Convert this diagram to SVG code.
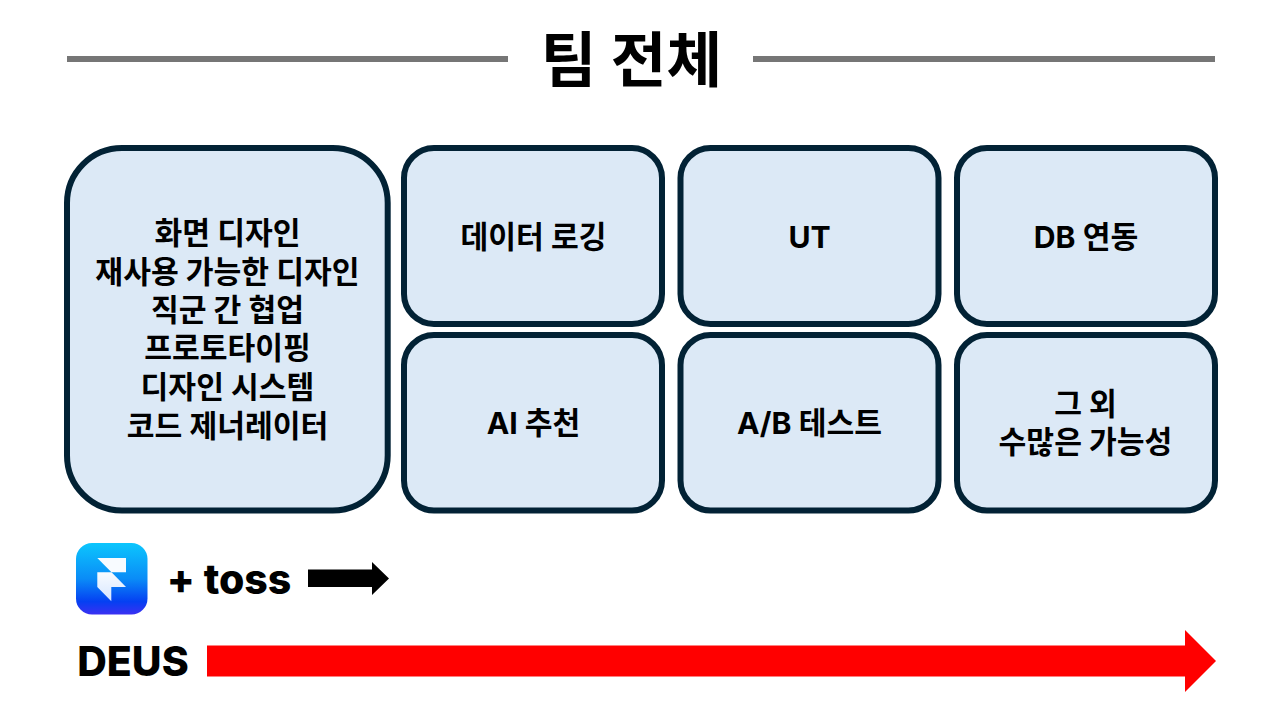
<svg xmlns="http://www.w3.org/2000/svg" width="1280" height="720" viewBox="0 0 1280 720">
<style>
text{font-family:"Inter","Noto Sans CJK KR",sans-serif;font-weight:700;fill:#000;text-anchor:middle}
.b{fill:#dce9f6;stroke:#022235;stroke-width:6}
.l{font-size:30.200px}
.x{font-size:41px;font-weight:800}
</style>
<defs>
<linearGradient id="g" x1="0" y1="0" x2="0" y2="1"><stop offset="0" stop-color="#0cc6fd"/><stop offset=".5" stop-color="#0a8cf7"/><stop offset=".82" stop-color="#0540f2"/><stop offset="1" stop-color="#3b30f2"/></linearGradient>
<linearGradient id="w" x1="0" y1="0" x2="0" y2="1"><stop offset="0" stop-color="#f8fbff"/><stop offset="1" stop-color="#d6e6ff"/></linearGradient>
</defs>
<rect width="1280" height="720" fill="#fff"/>
<g id="title">
<rect x="67" y="56" width="441" height="6" fill="#767676"/>
<rect x="753" y="56" width="462" height="6" fill="#767676"/>
<text x="631.500" y="82" font-size="60.500">팀 전체</text>
</g>
<g id="n-main"><rect class="b" x="67" y="148" width="320.700" height="362.500" rx="55"/>
<text class="l" x="227.500" y="244">화면 디자인</text><text class="l" x="227.500" y="282.500">재사용 가능한 디자인</text><text class="l" x="227.500" y="320.500">직군 간 협업</text><text class="l" x="227.500" y="359">프로토타이핑</text><text class="l" x="227.500" y="397.500">디자인 시스템</text><text class="l" x="227.500" y="436.500">코드 제너레이터</text></g>
<g id="n-log"><rect class="b" x="404" y="148" width="258" height="176" rx="30"/><text class="l" x="533.500" y="247.500">데이터 로깅</text></g>
<g id="n-ut"><rect class="b" x="680.500" y="148" width="258" height="176" rx="30"/><text class="l" x="809.500" y="247.500">UT</text></g>
<g id="n-db"><rect class="b" x="957" y="148" width="258" height="176" rx="30"/><text class="l" x="1086" y="247.500">DB 연동</text></g>
<g id="n-ai"><rect class="b" x="404" y="335" width="258" height="175.500" rx="30"/><text class="l" x="533.500" y="434">AI 추천</text></g>
<g id="n-ab"><rect class="b" x="680.500" y="335" width="258" height="175.500" rx="30"/><text class="l" x="809.500" y="434">A/B 테스트</text></g>
<g id="n-etc"><rect class="b" x="957" y="335" width="258" height="175.500" rx="30"/><text class="l" x="1085.500" y="414.500">그 외</text><text class="l" x="1085.500" y="453">수많은 가능성</text></g>
<g id="logo"><rect x="76" y="543" width="71.500" height="71.500" rx="16" fill="url(#g)"/>
<path d="M97.300 558H126V572.300H111.500Z" fill="#f8fbff"/>
<path d="M97.300 572.300H111.500L126 587H111.300V601.300L97.300 587Z" fill="url(#w)"/></g>
<g id="connectors">
<path d="M308 569.500H372V562L389 578.500 372 595V587H308Z" fill="#000"/>
<path d="M207 645.500H1185V630L1216 661 1185 692V676.500H207Z" fill="#f00"/>
</g>
<g id="labels">
<text class="x" x="229" y="594">+ toss</text>
<text class="x" x="133" y="676">DEUS</text>
</g>
</svg>
